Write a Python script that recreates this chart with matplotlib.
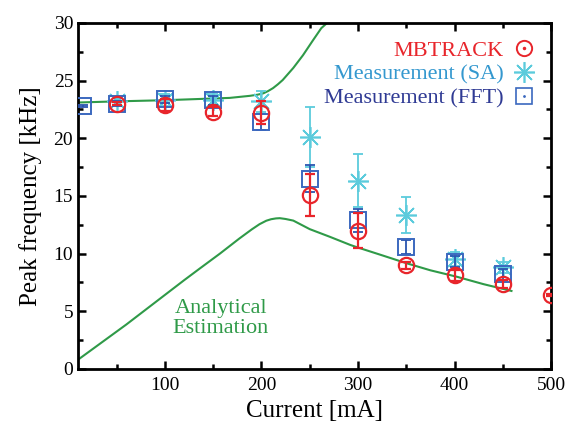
import matplotlib
matplotlib.use('Agg')
import matplotlib.pyplot as plt
from matplotlib.ticker import MultipleLocator
from matplotlib.legend_handler import HandlerTuple

plt.rcParams['font.family'] = ['Liberation Serif', 'DejaVu Serif']

# analytical estimation, two branches
up_x = [10, 50, 100, 150, 167, 188, 196, 202, 207, 212, 217, 222, 233, 243, 253, 262, 268]
up_y = [23.1, 23.2, 23.3, 23.45, 23.5, 23.68, 23.78, 23.9, 24.1, 24.35, 24.68, 25.05, 26.1, 27.2, 28.45, 29.55, 30.0]
low_x = [10, 60, 120, 136, 157, 177, 190, 198, 205, 210, 215, 219, 225, 233, 250, 271, 292, 299, 325, 350, 375, 402, 430, 459]
low_y = [0.8, 3.85, 7.7, 8.7, 10.0, 11.3, 12.1, 12.55, 12.85, 12.98, 13.05, 13.07, 13.0, 12.86, 12.12, 11.45, 10.75, 10.55, 9.85, 9.17, 8.55, 8.0, 7.35, 6.76]

# MBTRACK
mb_x = [50, 100, 150, 200, 250, 300, 350, 400, 450, 500]
mb_y = [23.0, 22.9, 22.3, 22.2, 15.1, 12.0, 9.0, 8.1, 7.4, 6.4]
mb_err = [0.15, 0.5, 0.4, 1.0, 1.8, 1.5, 0.3, 0.5, 0.35, 0.1]

# measurement, spectrum analyser
sa_x = [50, 100, 150, 200, 250, 300, 350, 400, 450]
sa_y = [23.2, 23.3, 23.3, 23.2, 20.1, 16.3, 13.35, 9.5, 8.8]
sa_err = [0.3, 0.5, 0.5, 0.9, 2.6, 2.3, 1.6, 0.6, 0.5]

# measurement, FFT
fft_x = [15, 50, 100, 150, 200, 250, 300, 350, 400, 450]
fft_y = [22.8, 23.0, 23.4, 23.3, 21.4, 16.5, 12.9, 10.6, 9.3, 8.2]
fft_err = [0.1, 0.2, 0.3, 0.4, 0.7, 1.2, 1.0, 0.6, 0.5, 0.5]

green = '#2f9a48'
red = '#e8252b'
cyan = '#5ccbdc'
sq_blue = '#3b68bf'
dk_blue = '#2f3a94'

fig = plt.figure(figsize=(5.74, 4.25), dpi=100)
ax = fig.add_axes([0.136, 0.132, 0.824, 0.814])

ax.plot(up_x, up_y, color=green, lw=1.5, zorder=2)
ax.plot(low_x, low_y, color=green, lw=1.5, zorder=2)

ax.errorbar(sa_x, sa_y, yerr=sa_err, fmt='none', ecolor=cyan, elinewidth=1.3, capsize=3.5, capthick=1.3, zorder=3)
ax.plot(sa_x, sa_y, ls='none', marker=(8, 2, 0), ms=15, mec=cyan, mew=1.2, zorder=3)

ax.errorbar(fft_x, fft_y, yerr=fft_err, fmt='none', ecolor='#2a55b0', elinewidth=1.3, capsize=3.5, capthick=1.3, zorder=4)
ax.plot(fft_x, fft_y, ls='none', marker='s', ms=11, mfc='none', mec=sq_blue, mew=1.4, zorder=4)

ax.errorbar(mb_x, mb_y, yerr=mb_err, fmt='none', ecolor=red, elinewidth=1.6, capsize=3.5, capthick=1.6, zorder=5)
ax.plot(mb_x, mb_y, ls='none', marker='o', ms=11, mfc='none', mec=red, mew=1.6, zorder=5)

ax.text(158, 4.4, 'Analytical\nEstimation', color=green, fontsize=16,
        ha='center', va='center', linespacing=1.05)

# legend handles
h_mb = (ax.plot([], [], ls='none', marker='o', ms=11, mfc='none', mec=red, mew=1.4)[0],
        ax.plot([], [], ls='none', marker='.', ms=3, color=red)[0])
h_sa = ax.plot([], [], ls='none', marker=(8, 2, 0), ms=15, mec=cyan, mew=1.2)[0]
h_fft = (ax.plot([], [], ls='none', marker='s', ms=11, mfc='none', mec=sq_blue, mew=1.2)[0],
         ax.plot([], [], ls='none', marker='.', ms=2, color=sq_blue)[0])
leg = ax.legend([h_mb, h_sa, h_fft],
                ['MBTRACK', 'Measurement (SA)', 'Measurement (FFT)'],
                handler_map={tuple: HandlerTuple(ndivide=1, pad=0)},
                loc='upper right', bbox_to_anchor=(0.985, 0.975), frameon=False, markerfirst=False,
                fontsize=16, handlelength=1.0, handletextpad=0.4, labelspacing=0.15, borderaxespad=0)
for t, c in zip(leg.get_texts(), [red, '#3498cf', dk_blue]):
    t.set_color(c)

ax.set_xlim(10, 500)
ax.set_ylim(0, 30)
ax.xaxis.set_major_locator(MultipleLocator(100))
ax.xaxis.set_minor_locator(MultipleLocator(50))
ax.yaxis.set_major_locator(MultipleLocator(5))
ax.yaxis.set_minor_locator(MultipleLocator(2.5))
ax.tick_params(which='both', direction='in', top=True, right=True, width=1.8, labelsize=14)
ax.tick_params(which='major', length=6)
ax.tick_params(which='minor', length=3.5)
ax.tick_params(axis='x', pad=6)
for s in ax.spines.values():
    s.set_linewidth(2)

ax.set_xlabel('Current [mA]', fontsize=18, labelpad=4)
ax.set_ylabel('Peak frequency [kHz]', fontsize=18, labelpad=8)

fig.savefig('out.png', dpi=100)
